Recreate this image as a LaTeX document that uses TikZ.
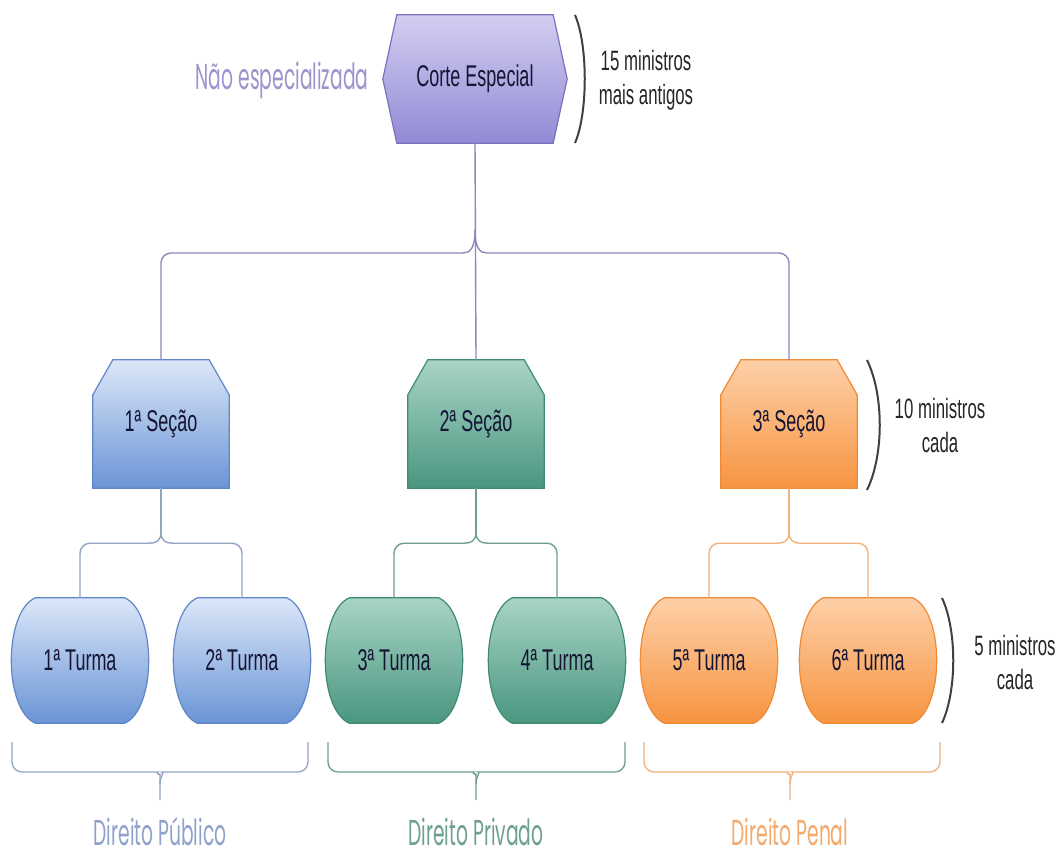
\documentclass[tikz,border=0pt]{standalone}
\usepackage{fontspec}
\usetikzlibrary{calc,backgrounds}
\newfontfamily\nar{Liberation Sans}[FakeStretch=0.6]
\newfontfamily\geo{Poppins}[FakeStretch=0.52]
\definecolor{txt}{HTML}{161634}
\definecolor{cTop}{HTML}{D2CEF0}\definecolor{cBot}{HTML}{928AD6}\definecolor{cDr}{HTML}{7A72C0}
\definecolor{bTop}{HTML}{DCE7F8}\definecolor{bBot}{HTML}{6A94D6}\definecolor{bDr}{HTML}{5F86C6}
\definecolor{gTop}{HTML}{A8D4C6}\definecolor{gBot}{HTML}{4A9680}\definecolor{gDr}{HTML}{3F8A74}
\definecolor{oTop}{HTML}{FDD0A8}\definecolor{oBot}{HTML}{F79440}\definecolor{oDr}{HTML}{F08A34}
\definecolor{pCon}{HTML}{8C88BC}\definecolor{bCon}{HTML}{90A4C4}\definecolor{gCon}{HTML}{6E9E90}\definecolor{oCon}{HTML}{F2B27A}
\definecolor{pLab}{HTML}{9C94CC}\definecolor{bLab}{HTML}{8EA2CC}\definecolor{gLab}{HTML}{6EA090}\definecolor{oLab}{HTML}{F3AA6C}
\newcommand\hexshape[4]{\path[draw=#4, top color=#2, bottom color=#3, line width=1.2pt]
  (#1.west) -- ($(#1.north west)+(14,0)$) -- ($(#1.north east)+(-14,0)$) -- (#1.east)
  -- ($(#1.south east)+(-14,0)$) -- ($(#1.south west)+(14,0)$) -- cycle;}
\newcommand\secshape[4]{\path[draw=#4, top color=#2, bottom color=#3, line width=1.2pt]
  (#1.south west) -- (#1.south east) -- ($(#1.north east)+(0,35)$) -- ($(#1.north east)+(-20,0)$)
  -- ($(#1.north west)+(20,0)$) -- ($(#1.north west)+(0,35)$) -- cycle;}
\newcommand\turshape[4]{\path[draw=#4, top color=#2, bottom color=#3, line width=1.2pt]
  ($(#1.north west)+(24,0)$) -- ($(#1.north east)+(-24,0)$)
  .. controls +(32,14) and +(32,-14) .. ($(#1.south east)+(-24,0)$)
  -- ($(#1.south west)+(24,0)$)
  .. controls +(-32,-14) and +(-32,14) .. ($(#1.north west)+(24,0)$) -- cycle;}
% brace branch: tip, target, sign, drop, style
\newcommand\brch[5]{\path ($(#1)+({(#3)*12},#4)$) coordinate (bq);
  \draw[#5] (#1) .. controls +(0,{0.8*#4}) and +({-1*(#3)*7},0) .. (bq)
  [rounded corners=10] -- (bq -| #2.north) -- (#2.north);}
\newcommand\bbrace[4]{\draw[line width=1.3pt,#4,rounded corners=10]
  (#1,742) -- (#1,772) -- ({#3-12},772) .. controls ({#3-5},772) and (#3,776) .. (#3,784) -- (#3,800);
  \draw[line width=1.3pt,#4,rounded corners=10]
  (#2,742) -- (#2,772) -- ({#3+12},772) .. controls ({#3+5},772) and (#3,776) .. (#3,784);}
\begin{document}
\begin{tikzpicture}[x=1pt,y=-1pt,
  lbl/.style={inner sep=0,font=\nar\fontsize{30}{32}\selectfont,text=txt},
  hexnode/.style={lbl,minimum width=184pt,minimum height=128pt},
  secnode/.style={lbl,minimum width=136pt,minimum height=128pt},
  turnode/.style={lbl,minimum width=137pt,minimum height=125pt},
  note/.style={inner sep=0,align=center,font=\nar\fontsize{28}{34}\selectfont,text=black!85},
  glab/.style={inner sep=0,font=\geo\fontsize{36}{40}\selectfont},
  paren/.style={line width=2pt,draw=black!75},
  conn/.style={line width=1.4pt}]
\useasboundingbox (0,0) rectangle (1059,860);
% nodes
\node[hexnode] (corte) at (475,79) {Corte Especial};
\node[secnode] (s1) at (161,424) {1ª Seção};
\node[secnode] (s2) at (476,424) {2ª Seção};
\node[secnode] (s3) at (789,424) {3ª Seção};
\node[turnode] (u1) at (80,660.5) {1ª Turma};
\node[turnode] (u2) at (242,660.5) {2ª Turma};
\node[turnode] (u3) at (394,660.5) {3ª Turma};
\node[turnode] (u4) at (557,660.5) {4ª Turma};
\node[turnode] (u5) at (709,660.5) {5ª Turma};
\node[turnode] (u6) at (868,660.5) {6ª Turma};
\begin{scope}[on background layer]
\fill[white] (0,0) rectangle (1059,860);
\hexshape{corte}{cTop}{cBot}{cDr}
\secshape{s1}{bTop}{bBot}{bDr}
\secshape{s2}{gTop}{gBot}{gDr}
\secshape{s3}{oTop}{oBot}{oDr}
\turshape{u1}{bTop}{bBot}{bDr}
\turshape{u2}{bTop}{bBot}{bDr}
\turshape{u3}{gTop}{gBot}{gDr}
\turshape{u4}{gTop}{gBot}{gDr}
\turshape{u5}{oTop}{oBot}{oDr}
\turshape{u6}{oTop}{oBot}{oDr}
\end{scope}
% top connectors
\coordinate (tb) at (475,230);
\draw[conn,pCon] (corte.south) -- (s2.north);
\brch{tb}{s1}{-1}{23}{conn,pCon}
\brch{tb}{s3}{1}{23}{conn,pCon}
% section connectors
\coordinate (t1) at ($(s1.south)+(0,44)$);
\coordinate (t2) at ($(s2.south)+(0,44)$);
\coordinate (t3) at ($(s3.south)+(0,44)$);
\draw[conn,bCon] (s1.south) -- (t1);
\draw[conn,gCon] (s2.south) -- (t2);
\draw[conn,oCon] (s3.south) -- (t3);
\brch{t1}{u1}{-1}{11}{conn,bCon}
\brch{t1}{u2}{1}{11}{conn,bCon}
\brch{t2}{u3}{-1}{11}{conn,gCon}
\brch{t2}{u4}{1}{11}{conn,gCon}
\brch{t3}{u5}{-1}{11}{conn,oCon}
\brch{t3}{u6}{1}{11}{conn,oCon}
% parentheses
\draw[paren] (575,15) .. controls (588,45) and (588,113) .. (575,143);
\draw[paren] (867,360) .. controls (884,395) and (884,455) .. (867,490);
\draw[paren] (942,598) .. controls (957,630) and (957,691) .. (942,723);
% notes
\node[note] (n1) at (646,80) {15 ministros\\mais antigos};
\node[note] (n2) at (940,425) {10 ministros\\cada};
\node[note] (n3) at (1015,662) {5 ministros\\cada};
\node[glab,text=pLab] (ne) at (282,80) {Não especializada};
% bottom braces
\bbrace{12}{308}{160}{bCon}
\bbrace{328}{625}{476}{gCon}
\bbrace{644}{940}{790}{oCon}
\node[glab,text=bLab] (l1) at (160,832) {Direito Público};
\node[glab,text=gLab] (l2) at (476,832) {Direito Privado};
\node[glab,text=oLab] (l3) at (790,832) {Direito Penal};
\end{tikzpicture}
\end{document}
